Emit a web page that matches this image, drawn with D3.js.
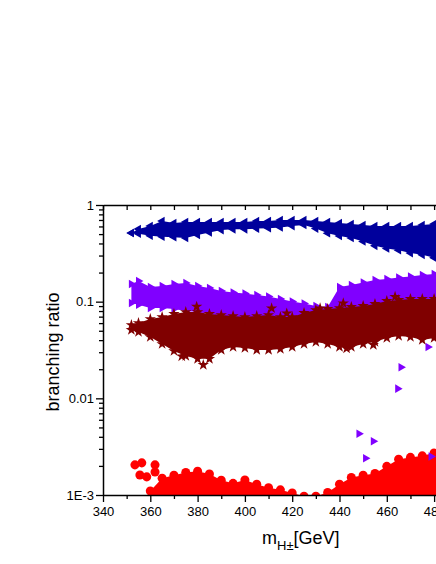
<!DOCTYPE html>
<html>
<head>
<meta charset="utf-8">
<script src="https://cdn.jsdelivr.net/npm/d3@7"></script>
<style>
  body { margin: 0; background: #fff; }
  text { font-family: Arial, "Liberation Sans", sans-serif; fill: #000; }
</style>
</head>
<body>
<svg width="436" height="564"></svg>
<script>
// band edges (upper / lower envelope of each scatter cloud)
const bandMass = [352, 355, 360, 365, 370, 375, 380, 385, 390, 395, 400, 405, 410, 415,
                  420, 425, 430, 435, 440, 445, 450, 455, 460, 465, 470, 475, 480, 485];

const navyHigh = [0.513, 0.565, 0.607, 0.683, 0.651, 0.667, 0.667, 0.667, 0.667, 0.667, 0.667, 0.683, 0.683, 0.70,
                  0.70, 0.70, 0.683, 0.667, 0.651, 0.636, 0.621, 0.607, 0.607, 0.607, 0.607, 0.621, 0.636, 0.636];
const navyLow  = [0.513, 0.505, 0.48, 0.47, 0.465, 0.455, 0.49, 0.52, 0.55, 0.56, 0.56, 0.57, 0.575, 0.585,
                  0.605, 0.62, 0.57, 0.51, 0.478, 0.455, 0.42, 0.378, 0.355, 0.34, 0.318, 0.305, 0.284, 0.274];

const violetHigh = [0.1525, 0.1637, 0.142, 0.1454, 0.1525, 0.156, 0.1454, 0.1386, 0.129, 0.1245, 0.1216, 0.1173, 0.1132, 0.1067,
                    0.1005, 0.0958, 0.0903, 0.0882, 0.142, 0.149, 0.158, 0.1677, 0.1717, 0.178, 0.1822, 0.189, 0.1934, 0.198];
const violetLow  = [0.097, 0.093, 0.086, 0.086, 0.084, 0.080, 0.0782, 0.0746, 0.0711, 0.0678, 0.0647, 0.0617, 0.0588, 0.0561,
                    0.0535, 0.0535, 0.0561, 0.0617, 0.0711, 0.0746, 0.0746, 0.0746, 0.0711, 0.0678, 0.0647, 0.0617, 0.0588, 0.0588];

const wineHigh = [0.0574, 0.0602, 0.0662, 0.0694, 0.0746, 0.0782, 0.0782, 0.0746, 0.0728, 0.0711, 0.0694, 0.0711, 0.0728, 0.0694,
                  0.0694, 0.0764, 0.082, 0.0841, 0.086, 0.0882, 0.0903, 0.0947, 0.1017, 0.1042, 0.1067, 0.1067, 0.1067, 0.1067];
const wineLow  = [0.051, 0.0486, 0.0431, 0.0365, 0.0309, 0.0274, 0.0256, 0.0256, 0.0317, 0.034, 0.0332, 0.0317, 0.0317, 0.0324,
                  0.034, 0.0365, 0.0383, 0.0365, 0.034, 0.034, 0.0365, 0.0383, 0.0421, 0.0442, 0.0431, 0.0402, 0.0421, 0.0421];

// loose stars outside the dense part of the cloud
const wineLooseMass  = [379.6, 411.3, 417.7, 426.1, 431.8, 441.6, 463.5, 454.3, 443, 382.4, 373.3];
const wineLooseValue = [0.0888, 0.0855, 0.0757, 0.070, 0.0855, 0.0963, 0.1125, 0.0357, 0.0328, 0.0222, 0.0272];

const redMass = [360, 365, 370, 375, 380, 385, 390, 395, 400, 405, 410, 415, 420,
                 425, 430, 435, 440, 445, 450, 455, 460, 465, 470, 475, 480, 485];
const redHigh = [0.00110, 0.00149, 0.00160, 0.00171, 0.00176, 0.00165, 0.00142, 0.00132, 0.00143, 0.00129, 0.00119, 0.00113, 0.00105,
                 0.00097, 0.00097, 0.00106, 0.00129, 0.00152, 0.00160, 0.00167, 0.00198, 0.00234, 0.00245, 0.00254, 0.00272, 0.00289];

const redClusterMass  = [353.5, 356.4, 362, 355.6, 358.5, 362];
const redClusterValue = [0.00205, 0.00215, 0.00205, 0.00161, 0.00154, 0.00173];

const violetOutMass  = [466, 464.6, 448.2, 454.3, 451, 478.7, 477.4];
const violetOutValue = [0.021, 0.0126, 0.0043, 0.0036, 0.0024, 0.0025, 0.034];

const xMajorTicks = [340, 360, 380, 400, 420, 440, 460, 480, 500];
const xMinorTicks = [350, 370, 390, 410, 430, 450, 470, 490];
const yMajorTicks = [0.001, 0.01, 0.1, 1];
const yTickLabels = ["1E-3", "0.01", "0.1", "1"];
const yMinorTicks = [2, 3, 4, 5, 6, 7, 8, 9].flatMap(k => [k * 1e-3, k * 1e-2, k * 1e-1]);

const svg = d3.select("svg");
const margin = { left: 103, top: 205 };
const innerW = 378.4;
const innerH = 290;

const x = d3.scaleLinear().domain([340, 500]).range([0, innerW]);
const y = d3.scaleLog().domain([0.001, 1]).range([innerH, 0]);

const g = svg.append("g").attr("transform", `translate(${margin.left},${margin.top})`);

g.append("clipPath").attr("id", "plotClip")
  .append("rect").attr("width", innerW).attr("height", innerH);

const plot = g.append("g").attr("clip-path", "url(#plotClip)");

function drawMarks(points, color, type, size, rotate) {
  const sym = d3.symbol().type(type).size(size);
  plot.append("g").selectAll("path").data(points)
    .join("path")
      .attr("d", sym)
      .attr("transform", d => `translate(${x(d[0])},${y(d[1])}) rotate(${rotate})`)
      .attr("fill", color);
}

function drawBand(mass, high, low, color, type, size, rotate) {
  const pts = mass.map((m, i) => ({ m, hi: high[i], lo: low ? low[i] : null }));
  const area = d3.area()
    .x(d => x(d.m))
    .y0(d => low ? y(d.lo) : innerH + 10)
    .y1(d => y(d.hi));
  plot.append("path").datum(pts).attr("d", area).attr("fill", color);
  const edge = pts.map(d => [d.m, d.hi]);
  if (low) pts.forEach(d => edge.push([d.m, d.lo]));
  drawMarks(edge, color, type, size, rotate);
}

const zip = (ms, vs) => ms.map((m, i) => [m, vs[i]]);

// red circles
drawBand(redMass, redHigh, null, "#ff0000", d3.symbolCircle, 64, 0);
drawMarks(zip(redClusterMass, redClusterValue), "#ff0000", d3.symbolCircle, 64, 0);

// navy left triangles
drawBand(bandMass, navyHigh, navyLow, "#00009c", d3.symbolTriangle, 32, -90);

// violet right triangles
drawBand(bandMass, violetHigh, violetLow, "#8000ff", d3.symbolTriangle, 32, 90);
drawMarks(zip(violetOutMass, violetOutValue), "#8000ff", d3.symbolTriangle, 32, 90);

// wine stars
drawBand(bandMass, wineHigh, wineLow, "#800000", d3.symbolStar, 40, 0);
drawMarks(zip(wineLooseMass, wineLooseValue), "#800000", d3.symbolStar, 40, 0);

// axes
const styleAxis = sel => {
  sel.selectAll("line").attr("stroke", "#000").attr("stroke-width", 1.3);
  sel.select(".domain").attr("stroke", "#000").attr("stroke-width", 1.5);
  sel.selectAll("text").attr("font-size", 13).style("font-family", "Arial, 'Liberation Sans', sans-serif");
};

g.append("g").attr("transform", `translate(0,${innerH})`)
  .call(d3.axisBottom(x).tickValues(xMajorTicks).tickFormat(d3.format("d")).tickSize(7).tickSizeOuter(0).tickPadding(5))
  .call(styleAxis);
g.append("g").attr("transform", `translate(0,${innerH})`)
  .call(d3.axisBottom(x).tickValues(xMinorTicks).tickFormat("").tickSize(4))
  .call(sel => sel.select(".domain").remove())
  .call(styleAxis);

g.append("g")
  .call(d3.axisTop(x).tickValues(xMajorTicks.concat(xMinorTicks)).tickFormat("").tickSize(-5).tickSizeOuter(0))
  .call(styleAxis);

g.append("g")
  .call(d3.axisLeft(y).tickValues(yMajorTicks).tickFormat((d, i) => yTickLabels[i]).tickSize(7).tickSizeOuter(0).tickPadding(2))
  .call(styleAxis);
g.append("g")
  .call(d3.axisLeft(y).tickValues(yMinorTicks).tickFormat("").tickSize(4))
  .call(sel => sel.select(".domain").remove())
  .call(styleAxis);

// titles
svg.append("text")
  .attr("transform", "translate(59,352) rotate(-90)")
  .attr("text-anchor", "middle")
  .attr("font-size", 18)
  .text("branching ratio");

const xt = svg.append("text")
  .attr("x", 262).attr("y", 544)
  .attr("font-size", 18);
xt.append("tspan").text("m");
xt.append("tspan").attr("font-size", 13).attr("dy", 6).text("H±");
xt.append("tspan").attr("dy", -6).text("[GeV]");
</script>
</body>
</html>
